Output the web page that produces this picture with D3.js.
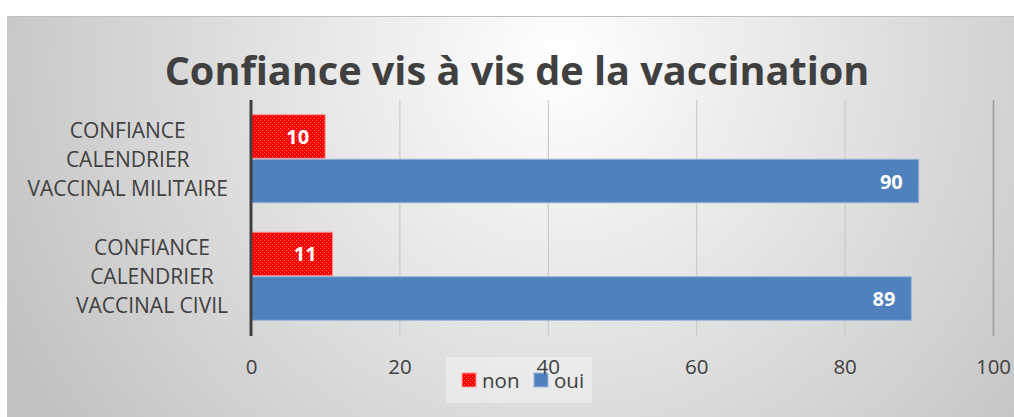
<!DOCTYPE html>
<html>
<head>
<meta charset="utf-8">
<script src="https://cdn.jsdelivr.net/npm/d3@7"></script>
<style>
  html, body { margin: 0; padding: 0; background: #fff; }
  svg { display: block; font-family: "Open Sans", sans-serif; }
</style>
</head>
<body>
<svg id="chart" width="1014" height="417"></svg>
<script>
// data
var categories = [
    ["CONFIANCE", "CALENDRIER", "VACCINAL MILITAIRE"],
    ["CONFIANCE", "CALENDRIER", "VACCINAL CIVIL"]
];
var seriesNames = ["non", "oui"];
var nonValues = [10, 11];
var ouiValues = [90, 89];
var tickValues = [0, 20, 40, 60, 80, 100];
var title = "Confiance vis à vis de la vaccination";

var colors = { non: "#ff0000", oui: "#4f81bd" };

var svg = d3.select("#chart"),
    width = +svg.attr("width"),
    height = +svg.attr("height");

var defs = svg.append("defs");

// background gradient
var grad = defs.append("radialGradient")
    .attr("id", "bg")
    .attr("gradientUnits", "userSpaceOnUse")
    .attr("cx", 560).attr("cy", 60).attr("r", 620);
grad.append("stop").attr("offset", "0").attr("stop-color", "#ffffff");
grad.append("stop").attr("offset", "1").attr("stop-color", "#c2c2c2");

// red dotted pattern
var pat = defs.append("pattern")
    .attr("id", "redpat")
    .attr("patternUnits", "userSpaceOnUse")
    .attr("width", 4).attr("height", 4);
pat.append("rect").attr("width", 4).attr("height", 4).attr("fill", "#ff0000");
pat.append("rect").attr("x", 0).attr("y", 0).attr("width", 1).attr("height", 1).attr("fill", "#ff7070");
pat.append("rect").attr("x", 2).attr("y", 2).attr("width", 1).attr("height", 1).attr("fill", "#ff7070");

svg.append("rect")
    .attr("x", 7).attr("y", 16)
    .attr("width", width - 7).attr("height", height - 16)
    .attr("fill", "url(#bg)");
svg.append("line")
    .attr("x1", 7).attr("x2", width)
    .attr("y1", 16.5).attr("y2", 16.5)
    .attr("stroke", "#c0c0c0");

// title
var t = svg.append("text")
    .attr("x", 517).attr("y", 85)
    .attr("text-anchor", "middle")
    .attr("font-weight", "bold")
    .attr("font-size", 40)
    .attr("fill", "#404040")
    .text(title);
var tw = t.node().getComputedTextLength();
t.attr("font-size", 40 * 705 / tw);

// scales
var x = d3.scaleLinear().domain([0, 100]).range([251, 993]);
var y = d3.scaleBand().domain(d3.range(categories.length))
    .range([100, 335]).paddingInner(0.25).paddingOuter(0.125);
var ys = d3.scaleBand().domain(seriesNames).range([0, y.bandwidth()]).paddingInner(0.02);

// gridlines
svg.append("g").selectAll("line")
    .data(tickValues.slice(1))
    .join("line")
    .attr("x1", d => x(d) + 0.5).attr("x2", d => x(d) + 0.5)
    .attr("y1", 100).attr("y2", 336)
    .attr("stroke", d => d === 100 ? "#9a9a9a" : "#c4c4c4")
    .attr("stroke-width", d => d === 100 ? 1.5 : 1);

// bars
var rows = categories.map(function (c, i) {
    return { i: i, non: nonValues[i], oui: ouiValues[i] };
});
var g = svg.append("g");
seriesNames.forEach(function (s) {
    g.selectAll(".bar-" + s)
        .data(rows)
        .join("rect")
        .attr("class", "bar-" + s)
        .attr("x", x(0))
        .attr("y", d => y(d.i) + ys(s))
        .attr("width", d => x(d[s]) - x(0))
        .attr("height", ys.bandwidth())
        .attr("fill", s === "non" ? "url(#redpat)" : colors.oui)
        .attr("stroke", s === "non" ? "#ff9a9a" : "#9fb8da")
        .attr("stroke-width", 1);
    g.selectAll(".lab-" + s)
        .data(rows)
        .join("text")
        .attr("class", "lab-" + s)
        .attr("x", d => x(d[s]) - 16)
        .attr("y", d => y(d.i) + ys(s) + ys.bandwidth() / 2 + 7.5)
        .attr("text-anchor", "end")
        .attr("font-weight", "bold")
        .attr("font-size", 20)
        .attr("fill", "#ffffff")
        .text(d => d[s]);
});

// vertical axis line
svg.append("line")
    .attr("x1", x(0)).attr("x2", x(0))
    .attr("y1", 100).attr("y2", 336)
    .attr("stroke", "#404040")
    .attr("stroke-width", 3);

// category labels (lines centred, block right-aligned)
categories.forEach(function (lines, i) {
    var cg = svg.append("g");
    var txt = cg.selectAll("text")
        .data(lines)
        .join("text")
        .attr("font-size", 21)
        .attr("fill", "#404040")
        .attr("text-anchor", "middle")
        .attr("y", (d, k) => y(i) + 23 + k * 29)
        .text(d => d);
    var maxW = d3.max(txt.nodes(), n => n.getComputedTextLength());
    txt.attr("x", 228 - maxW / 2);
});

// legend
var lg = svg.append("g");
lg.append("rect")
    .attr("x", 446).attr("y", 357)
    .attr("width", 146).attr("height", 46)
    .attr("fill", "#ffffff").attr("fill-opacity", 0.35);
var items = [
    { name: "non", fill: "url(#redpat)", stroke: "#ff9a9a", x: 462 },
    { name: "oui", fill: colors.oui, stroke: "#9fb8da", x: 534 }
];
lg.selectAll("rect.sw")
    .data(items)
    .join("rect")
    .attr("class", "sw")
    .attr("x", d => d.x).attr("y", 373)
    .attr("width", 14).attr("height", 14)
    .attr("fill", d => d.fill)
    .attr("stroke", d => d.stroke);
lg.selectAll("text")
    .data(items)
    .join("text")
    .attr("x", d => d.x + 20).attr("y", 388)
    .attr("font-size", 20.5)
    .attr("fill", "#404040")
    .text(d => d.name);

// x tick labels
var xAxis = d3.axisBottom(x).tickValues(tickValues).tickSize(0).tickPadding(0);
var ax = svg.append("g")
    .attr("transform", "translate(0,359)")
    .call(xAxis);
ax.select(".domain").remove();
ax.selectAll("text")
    .attr("font-family", "Open Sans, sans-serif")
    .attr("font-size", 20.5)
    .attr("fill", "#404040")
    .attr("dy", "0.71em");
</script>
</body>
</html>
